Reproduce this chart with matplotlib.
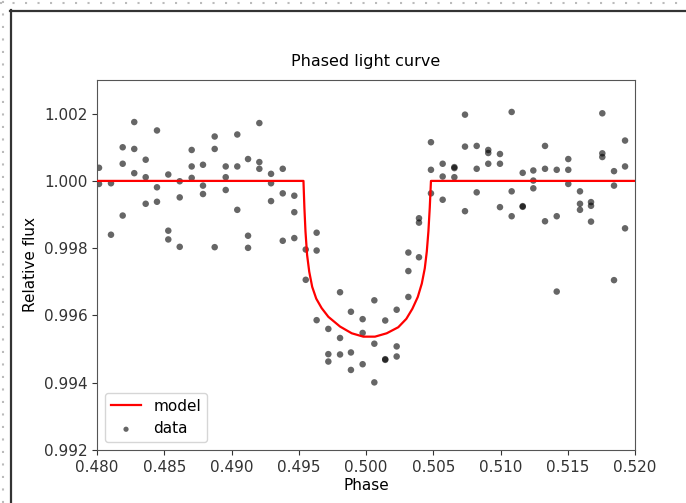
import numpy as np
import matplotlib
matplotlib.use("Agg")
import matplotlib.pyplot as plt
from matplotlib.lines import Line2D

phase = [
    0.48015, 0.48015,
    0.48104, 0.48104,
    0.48191, 0.48191, 0.48191,
    0.48277, 0.48277, 0.48277,
    0.48362, 0.48362, 0.48362,
    0.48446, 0.48446, 0.48446,
    0.48530, 0.48530, 0.48530,
    0.48615, 0.48615, 0.48615,
    0.48704, 0.48704, 0.48704,
    0.48788, 0.48788, 0.48788,
    0.48875, 0.48875, 0.48875,
    0.48957, 0.48957, 0.48957,
    0.49043, 0.49043, 0.49043,
    0.49123, 0.49123, 0.49123,
    0.49207, 0.49207, 0.49207,
    0.49294, 0.49294, 0.49294,
    0.49381, 0.49381, 0.49381,
    0.49467, 0.49467, 0.49467,
    0.49552, 0.49552,
    0.49633, 0.49633, 0.49633,
    0.49720, 0.49720, 0.49720,
    0.49807, 0.49807, 0.49807,
    0.49888, 0.49888, 0.49888,
    0.49975, 0.49975, 0.49975,
    0.50062, 0.50062, 0.50062,
    0.50143, 0.50143, 0.50143,
    0.50228, 0.50228, 0.50228,
    0.50315, 0.50315, 0.50315,
    0.50394, 0.50394, 0.50394,
    0.50483, 0.50483, 0.50483,
    0.50570, 0.50570, 0.50570,
    0.50657, 0.50657, 0.50657,
    0.50736, 0.50736, 0.50736,
    0.50823, 0.50823, 0.50823,
    0.50909, 0.50909, 0.50909,
    0.50996, 0.50996, 0.50996,
    0.51083, 0.51083, 0.51083,
    0.51165, 0.51165, 0.51165,
    0.51244, 0.51244, 0.51244,
    0.51331, 0.51331, 0.51331,
    0.51418, 0.51418, 0.51418,
    0.51504, 0.51504, 0.51504,
    0.51591, 0.51591, 0.51591,
    0.51673, 0.51673, 0.51673,
    0.51757, 0.51757, 0.51757,
    0.51844, 0.51844, 0.51844,
    0.51926, 0.51926, 0.51926,
]
flux = [
    1.00039, 0.99991,
    0.99993, 0.99840,
    1.00100, 1.00051, 0.99897,
    1.00175, 1.00095, 1.00023,
    1.00063, 1.00011, 0.99932,
    1.00150, 0.99981, 0.99938,
    1.00019, 0.99852, 0.99826,
    0.99999, 0.99951, 0.99804,
    1.00092, 1.00043, 1.00009,
    1.00048, 0.99986, 0.99961,
    1.00132, 1.00095, 0.99803,
    1.00043, 1.00011, 0.99973,
    1.00138, 1.00043, 0.99914,
    1.00065, 0.99837, 0.99801,
    1.00172, 1.00056, 1.00036,
    1.00021, 0.99993, 0.99940,
    1.00036, 0.99963, 0.99822,
    0.99956, 0.99907, 0.99830,
    0.99796, 0.99706,
    0.99846, 0.99793, 0.99586,
    0.99560, 0.99485, 0.99463,
    0.99669, 0.99533, 0.99484,
    0.99611, 0.99490, 0.99438,
    0.99589, 0.99548, 0.99455,
    0.99645, 0.99516, 0.99401,
    0.99585, 0.99470, 0.99468,
    0.99617, 0.99508, 0.99478,
    0.99787, 0.99732, 0.99655,
    0.99889, 0.99876, 0.99773,
    1.00115, 1.00033, 0.99963,
    1.00051, 1.00013, 0.99944,
    1.00041, 1.00038, 1.00011,
    1.00197, 1.00102, 0.99910,
    1.00104, 1.00036, 0.99966,
    1.00092, 1.00083, 1.00051,
    1.00080, 1.00051, 0.99922,
    1.00205, 0.99969, 0.99895,
    1.00024, 0.99925, 0.99923,
    1.00031, 1.00001, 0.99978,
    1.00104, 1.00036, 0.99880,
    1.00033, 0.99895, 0.99671,
    1.00065, 1.00033, 0.99991,
    0.99969, 0.99932, 0.99914,
    0.99937, 0.99926, 0.99879,
    1.00201, 1.00082, 1.00071,
    1.00029, 0.99986, 0.99705,
    1.00120, 1.00043, 0.99859,
]

# transit model curve
model_phase = [0.480, 0.49535, 0.49542, 0.49550, 0.49562, 0.49578, 0.49600,
               0.49630, 0.49670, 0.49720, 0.49807, 0.49894, 0.49980, 0.50067,
               0.50154, 0.50240, 0.50300, 0.50345, 0.50385, 0.50415, 0.50437,
               0.50452, 0.50464, 0.50474, 0.50483, 0.520]
model_flux = [1.0, 1.0, 0.99920, 0.99850, 0.99780, 0.99730, 0.99685,
              0.99650, 0.99622, 0.99596, 0.99567, 0.99547, 0.99537, 0.99537,
              0.99547, 0.99565, 0.99590, 0.99620, 0.99655, 0.99695, 0.99740,
              0.99790, 0.99850, 0.99920, 1.0, 1.0]

x_ticks = [0.480, 0.485, 0.490, 0.495, 0.500, 0.505, 0.510, 0.515, 0.520]
y_ticks = [0.992, 0.994, 0.996, 0.998, 1.000, 1.002]

plt.rcParams['font.family'] = ['DejaVu Sans']
plt.rcParams['font.size'] = 11

fig = plt.figure(figsize=(6.86, 5.03), dpi=100)
ax = fig.add_axes([97 / 686, 53 / 503, 538 / 686, 370 / 503])

ax.plot(model_phase, model_flux, color='red', lw=1.6, label='model', zorder=3)
ax.scatter(phase, flux, s=22, color='k', alpha=0.6, edgecolors='none',
           label='data', zorder=2)

ax.set_xlim(0.480, 0.520)
ax.set_ylim(0.992, 1.003)
ax.set_xticks(x_ticks)
ax.set_yticks(y_ticks)
ax.set_xticklabels(["%.3f" % t for t in x_ticks])
ax.set_yticklabels(["%.3f" % t for t in y_ticks])
for s in ax.spines.values():
    s.set_color('#555555')
ax.tick_params(colors='#333333')

ax.set_title("Phased light curve", fontsize=11.5, pad=10)
ax.set_xlabel("Phase", labelpad=2)
ax.set_ylabel("Relative flux")
ax.legend(loc='lower left', markerscale=0.8)

# screenshot frame around the figure
W, H = 686, 503
fig.add_artist(Line2D([0, W], [H - 2.5, H - 2.5], transform=None, color='#bbbbbb',
                      lw=1.5, ls=(0, (1, 5))))
fig.add_artist(Line2D([3, 3], [0, H], transform=None, color='#bbbbbb',
                      lw=1.5, ls=(0, (1, 5))))
fig.add_artist(Line2D([10, W], [H - 10.5, H - 10.5], transform=None,
                      color='#333333', lw=1.6))
fig.add_artist(Line2D([10.5, 10.5], [0, H - 10], transform=None,
                      color='#333333', lw=1.6))

fig.savefig("out.png", dpi=100)
